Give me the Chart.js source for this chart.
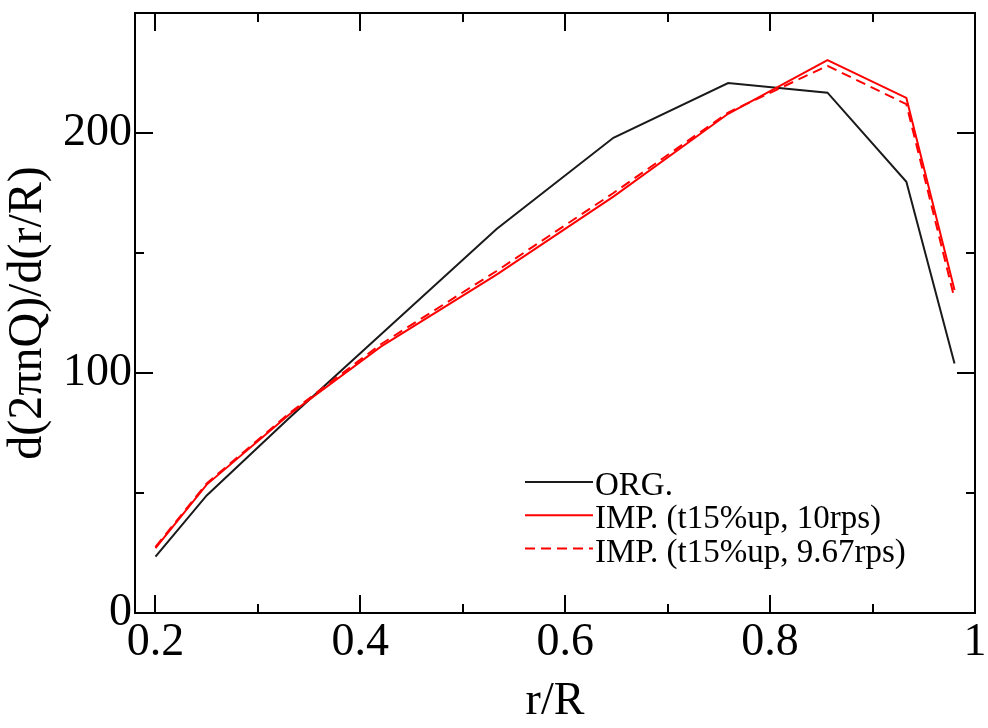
<!DOCTYPE html>
<html>
<head>
<meta charset="utf-8">
<script src="https://cdn.jsdelivr.net/npm/chart.js@4/dist/chart.umd.min.js"></script>
<style>
  html, body { margin: 0; padding: 0; background: #ffffff; }
  #wrap { width: 988px; height: 728px; }
</style>
</head>
<body>
<div id="wrap"><canvas id="c" width="988" height="728"></canvas></div>
<script>
// Radial stations r/R and torque distribution d(2πnQ)/d(r/R)
const radius = [0.2, 0.25, 0.33, 0.42, 0.533, 0.647, 0.759, 0.856, 0.933, 0.98];
const torqueOrg = [23.5, 49, 81, 116, 160, 198, 220.8, 216.8, 179.7, 104];
const torqueImp10 = [27, 53.5, 82.5, 111, 141, 173.5, 208, 230.4, 214.6, 134.6];
const torqueImp967 = [27.5, 54, 83, 112, 142.5, 175, 208.5, 228, 212, 131];
const seriesLabels = ['ORG.', 'IMP. (t15%up, 10rps)', 'IMP. (t15%up, 9.67rps)'];

const xMajorTicks = [0.2, 0.4, 0.6, 0.8, 1];
const xMinorTicks = [0.3, 0.5, 0.7, 0.9];
const yMajorTicks = [0, 100, 200];
const yMinorTicks = [50, 150];

const FONT = '"Liberation Serif", "Times New Roman", serif';

const toPoints = (ys) => radius.map((r, i) => ({ x: r, y: ys[i] }));

// Box frame with inward ticks on all four sides
const frameTicks = {
  id: 'frameTicks',
  afterDatasetsDraw(chart) {
    const { ctx, chartArea: a, scales: { x, y } } = chart;
    const major = 18, minor = 9;
    ctx.save();
    ctx.strokeStyle = '#000';
    ctx.lineWidth = 2;
    ctx.beginPath();
    const tickX = (v, len) => {
      const px = Math.round(x.getPixelForValue(v));
      ctx.moveTo(px, a.bottom); ctx.lineTo(px, a.bottom - len);
      ctx.moveTo(px, a.top); ctx.lineTo(px, a.top + len);
    };
    const tickY = (v, len) => {
      const py = Math.round(y.getPixelForValue(v));
      ctx.moveTo(a.left, py); ctx.lineTo(a.left + len, py);
      ctx.moveTo(a.right, py); ctx.lineTo(a.right - len, py);
    };
    xMajorTicks.forEach(v => tickX(v, major));
    xMinorTicks.forEach(v => tickX(v, minor));
    yMajorTicks.forEach(v => tickY(v, major));
    yMinorTicks.forEach(v => tickY(v, minor));
    ctx.stroke();
    ctx.strokeRect(a.left, a.top, a.right - a.left, a.bottom - a.top);
    ctx.restore();
  }
};

// Legend drawn inside the plot, lower right
const insideLegend = {
  id: 'insideLegend',
  afterDraw(chart) {
    const { ctx, chartArea: a } = chart;
    const x0 = a.left + 390, x1 = a.left + 458, tx = a.left + 460;
    const base0 = a.top + 482, step = 33.3;
    ctx.save();
    ctx.font = '33px ' + FONT;
    ctx.textBaseline = 'alphabetic';
    ctx.textAlign = 'left';
    chart.data.datasets.forEach((ds, i) => {
      const b = base0 + i * step;
      const ly = b - 13;
      ctx.strokeStyle = ds.borderColor;
      ctx.lineWidth = ds.borderWidth;
      ctx.setLineDash(ds.borderDash || []);
      ctx.beginPath();
      ctx.moveTo(x0, ly); ctx.lineTo(x1, ly);
      ctx.stroke();
      ctx.setLineDash([]);
      ctx.fillStyle = '#000';
      ctx.fillText(ds.label, tx, b);
    });
    ctx.restore();
  }
};

new Chart(document.getElementById('c'), {
  type: 'line',
  data: {
    datasets: [
      { label: seriesLabels[0], data: toPoints(torqueOrg), borderColor: '#1a1a1a', borderWidth: 2, order: 2 },
      { label: seriesLabels[1], data: toPoints(torqueImp10), borderColor: '#ff0000', borderWidth: 2, order: 0 },
      { label: seriesLabels[2], data: toPoints(torqueImp967), borderColor: '#ff0000', borderWidth: 2, borderDash: [10, 6], order: 1 }
    ]
  },
  options: {
    responsive: false,
    animation: false,
    devicePixelRatio: 1,
    layout: { padding: { top: 13, right: 13, left: 0, bottom: 0 } },
    elements: { point: { radius: 0 }, line: { tension: 0, fill: false } },
    plugins: { legend: { display: false }, tooltip: { enabled: false } },
    scales: {
      x: {
        type: 'linear',
        min: 0.18,
        max: 1.0,
        afterBuildTicks: (s) => { s.ticks = xMajorTicks.map(v => ({ value: v })); },
        afterFit: (s) => { s.height = 115; s.paddingLeft = 0; s.paddingRight = 0; },
        grid: { display: false, drawTicks: false },
        border: { display: false },
        ticks: {
          color: '#000',
          padding: 2,
          font: { family: FONT, size: 46 },
          callback: (v) => String(v)
        },
        title: {
          display: true,
          text: 'r/R',
          color: '#000',
          font: { family: FONT, size: 46 },
          padding: { top: 0, bottom: -2 }
        }
      },
      y: {
        type: 'linear',
        min: 0,
        max: 250,
        afterBuildTicks: (s) => { s.ticks = yMajorTicks.map(v => ({ value: v })); },
        afterFit: (s) => { s.width = 135; s.paddingTop = 0; s.paddingBottom = 0; },
        grid: { display: false, drawTicks: false },
        border: { display: false },
        ticks: {
          color: '#000',
          padding: 3,
          font: { family: FONT, size: 46 },
          callback: (v) => String(v)
        },
        title: {
          display: true,
          text: 'd(2πnQ)/d(r/R)',
          color: '#000',
          font: { family: FONT, size: 48 },
          padding: { top: 0, bottom: 0 }
        }
      }
    }
  },
  plugins: [frameTicks, insideLegend]
});
</script>
</body>
</html>
